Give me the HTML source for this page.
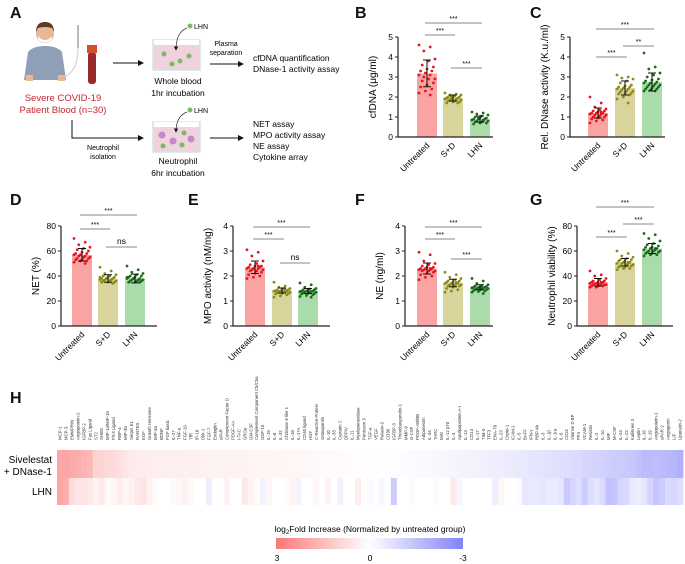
<!DOCTYPE html>
<html><head><meta charset="utf-8"><style>
body{margin:0;background:#fff}
svg{display:block;font-family:"Liberation Sans",Arial,sans-serif}
</style></head><body>
<svg id="fig" width="685" height="564" viewBox="0 0 685 564" xmlns="http://www.w3.org/2000/svg">
<defs>
<linearGradient id="cbar" x1="0" x2="1" y1="0" y2="0">
<stop offset="0" stop-color="rgb(250,120,120)"/><stop offset="0.5" stop-color="#fff"/><stop offset="1" stop-color="rgb(130,130,250)"/>
</linearGradient>
<marker id="arr" markerWidth="6" markerHeight="6" refX="5" refY="3" orient="auto"><path d="M0,0 L6,3 L0,6 z" fill="#111"/></marker>
</defs>
<!-- Panel labels -->
<g font-size="16" font-weight="bold" fill="#111">
<text x="10" y="18">A</text>
<text x="355" y="18">B</text>
<text x="530" y="18">C</text>
<text x="10" y="205">D</text>
<text x="188" y="205">E</text>
<text x="355" y="205">F</text>
<text x="530" y="205">G</text>
<text x="10" y="403">H</text>
</g>
<!-- Panel A schematic -->
<g>
<g>
<path d="M24,80 L28,52 Q33,46 45,46 Q57,46 62,52 L66,80 Z" fill="#8f9fb8"/>
<rect x="26" y="75" width="7" height="6" fill="#e8b894"/>
<rect x="58" y="75" width="7" height="6" fill="#e8b894"/>
<circle cx="45" cy="34" r="9" fill="#e8b894"/>
<path d="M36,32 Q36,22 45,22 Q54,22 54,32 L52,28 Q45,26 38,28 Z" fill="#5a3a28"/>
<path d="M38,36 Q45,44 52,36 L52,40 Q45,46 38,40 Z" fill="#fff" stroke="#ccc" stroke-width="0.5"/>
<line x1="78" y1="25" x2="78" y2="48" stroke="#bbb" stroke-width="2"/>
<path d="M78,48 Q78,70 66,76" stroke="#ccc" fill="none" stroke-width="1"/>
<rect x="88" y="52" width="8" height="32" rx="3" fill="#9a2a2a"/>
<rect x="87" y="45" width="10" height="8" fill="#d2502a"/>
</g>
<text x="63" y="101" font-size="9.5" fill="#c0282e" text-anchor="middle">Severe COVID-19</text>
<text x="63" y="113" font-size="9.5" fill="#c0282e" text-anchor="middle">Patient Blood (n=30)</text>
<line x1="113" y1="63" x2="143" y2="63" stroke="#111" marker-end="url(#arr)"/>
<polyline points="72,120 72,138 143,138" fill="none" stroke="#111" marker-end="url(#arr)"/>
<text x="103" y="150" font-size="7" text-anchor="middle"><tspan x="103">Neutrophil</tspan><tspan x="103" dy="9">isolation</tspan></text>
<g>
<rect x="153" y="40" width="47" height="30" fill="#f0d2de" stroke="#cfe6e6" stroke-width="1.5"/>
<rect x="154" y="40" width="45" height="5" fill="#fff"/>
<circle cx="164" cy="54" r="2.5" fill="#7cb86a"/><circle cx="172" cy="64" r="2.5" fill="#7cb86a"/><circle cx="180" cy="61" r="2.5" fill="#7cb86a"/><circle cx="189" cy="56" r="2.5" fill="#7cb86a"/>
<circle cx="190" cy="26" r="2.5" fill="#7cb86a"/>
<path d="M187,28 Q176,32 176,50" fill="none" stroke="#333" stroke-width="0.7" marker-end="url(#arr)"/>
</g>
<text x="194" y="29" font-size="7">LHN</text>
<text x="178" y="84" font-size="8.5" text-anchor="middle"><tspan x="178">Whole blood</tspan><tspan x="178" dy="12">1hr incubation</tspan></text>
<text x="226" y="46" font-size="7" text-anchor="middle"><tspan x="226">Plasma</tspan><tspan x="226" dy="9">separation</tspan></text>
<line x1="210" y1="64" x2="243" y2="64" stroke="#111" marker-end="url(#arr)"/>
<text x="253" y="61" font-size="8.5"><tspan x="253">cfDNA quantification</tspan><tspan x="253" dy="11">DNase-1 activity assay</tspan></text>
<g>
<rect x="153" y="122" width="47" height="30" fill="#f0d2de" stroke="#cfe6e6" stroke-width="1.5"/>
<rect x="154" y="122" width="45" height="5" fill="#fff"/>
<circle cx="162" cy="135" r="3.5" fill="#c08ac8"/><circle cx="173" cy="141" r="3.5" fill="#c08ac8"/><circle cx="191" cy="139" r="3.5" fill="#c08ac8"/>
<circle cx="163" cy="146" r="2.5" fill="#7cb86a"/><circle cx="182" cy="145" r="2.5" fill="#7cb86a"/><circle cx="184" cy="133" r="2.5" fill="#7cb86a"/>
<circle cx="190" cy="110" r="2.5" fill="#7cb86a"/>
<path d="M187,112 Q176,116 176,132" fill="none" stroke="#333" stroke-width="0.7" marker-end="url(#arr)"/>
</g>
<text x="194" y="113" font-size="7">LHN</text>
<text x="178" y="164" font-size="8.5" text-anchor="middle"><tspan x="178">Neutrophil</tspan><tspan x="178" dy="12">6hr incubation</tspan></text>
<line x1="210" y1="138" x2="243" y2="138" stroke="#111" marker-end="url(#arr)"/>
<text x="253" y="127" font-size="8.5"><tspan x="253">NET assay</tspan><tspan x="253" dy="11">MPO activity assay</tspan><tspan x="253" dy="11">NE assay</tspan><tspan x="253" dy="11">Cytokine array</tspan></text>
</g>
<g id="charts"></g>
<g id="heat"></g>
<!-- colorbar -->
<text x="370" y="532" font-size="8.5" text-anchor="middle">log<tspan font-size="6" dy="2">2</tspan><tspan dy="-2">Fold Increase (Normalized by untreated group)</tspan></text>
<rect x="276" y="538" width="187" height="11" fill="url(#cbar)"/>
<text x="277" y="561" font-size="8.5" text-anchor="middle">3</text>
<text x="370" y="561" font-size="8.5" text-anchor="middle">0</text>
<text x="463" y="561" font-size="8.5" text-anchor="middle">-3</text>
<text x="52" y="463" font-size="10" text-anchor="end"><tspan x="52">Sivelestat</tspan><tspan x="52" dy="12">+ DNase-1</tspan></text>
<text x="52" y="495" font-size="10" text-anchor="end">LHN</text>
</svg>
<script>
const NS="http://www.w3.org/2000/svg";
const groups=["Untreated","S+D","LHN"];
// Panel B cfDNA
const bMeans=[3.18,1.95,0.9], bSD=[0.67,0.15,0.15];
const bU=[4.6,4.5,4.3,3.9,3.8,3.6,3.5,3.4,3.3,3.3,3.2,3.1,3.1,3.0,2.9,2.9,2.8,2.7,2.6,2.5,2.4,2.3,2.2,2.1];
const bS=[2.2,2.15,2.1,2.1,2.05,2.0,2.0,2.0,1.95,1.95,1.9,1.9,1.9,1.85,1.85,1.8,1.8,1.75,1.75,1.7,1.7,2.0,1.9,1.85];
const bL=[1.25,1.2,1.15,1.1,1.05,1.0,0.95,0.95,0.9,0.9,0.9,0.85,0.85,0.8,0.8,0.75,0.75,0.7,0.7,0.65,0.9,0.95,0.85,0.8];
// Panel C DNase
const cMeans=[1.2,2.45,2.75], cSD=[0.25,0.35,0.45];
const cU=[2.0,1.7,1.5,1.4,1.35,1.3,1.3,1.25,1.2,1.2,1.2,1.15,1.15,1.1,1.1,1.05,1.0,1.0,0.95,0.9,0.85,0.8,0.7,1.25];
const cS=[3.1,3.0,2.95,2.9,2.8,2.7,2.6,2.55,2.5,2.5,2.45,2.4,2.4,2.35,2.3,2.3,2.25,2.2,2.2,2.15,2.1,2.0,1.9,1.7];
const cL=[4.2,3.5,3.4,3.2,3.1,3.0,2.9,2.85,2.8,2.75,2.7,2.7,2.65,2.6,2.6,2.55,2.5,2.5,2.45,2.4,2.4,2.35,2.3,2.3];
// Panel D NET
const dMeans=[57,38,38], dSD=[5,3,3.5];
const dU=[70,67,65,63,62,61,60,59,58,58,57,57,56,56,55,55,54,54,53,53,52,52,51,50];
const dS=[47,44,42,41,40,40,39,39,38,38,38,37,37,37,36,36,36,35,35,35,34,38,39,37];
const dL=[48,45,43,42,41,40,40,39,39,38,38,38,37,37,37,36,36,36,35,35,35,38,39,37];
// Panel E MPO
const eMeans=[2.35,1.42,1.4], eSD=[0.25,0.1,0.1];
const eU=[3.05,2.95,2.8,2.6,2.5,2.45,2.4,2.4,2.35,2.35,2.3,2.3,2.3,2.25,2.25,2.2,2.2,2.15,2.1,2.05,2.0,1.95,1.9,2.4];
const eS=[1.75,1.6,1.55,1.5,1.5,1.45,1.45,1.45,1.4,1.4,1.4,1.4,1.38,1.38,1.35,1.35,1.32,1.3,1.3,1.28,1.25,1.2,1.15,1.45];
const eL=[1.72,1.65,1.55,1.5,1.48,1.45,1.45,1.42,1.4,1.4,1.4,1.38,1.38,1.36,1.35,1.35,1.32,1.3,1.3,1.28,1.25,1.22,1.18,1.15];
// Panel F NE
const fMeans=[2.3,1.72,1.55], fSD=[0.22,0.15,0.1];
const fU=[2.95,2.85,2.6,2.5,2.45,2.4,2.35,2.35,2.3,2.3,2.3,2.25,2.25,2.25,2.2,2.2,2.2,2.15,2.1,2.05,2.0,1.95,1.85,2.3];
const fS=[2.15,2.05,1.95,1.9,1.85,1.8,1.8,1.75,1.75,1.72,1.7,1.7,1.68,1.65,1.65,1.62,1.6,1.6,1.55,1.5,1.45,1.4,1.35,1.75];
const fL=[1.9,1.8,1.7,1.65,1.6,1.6,1.58,1.56,1.55,1.55,1.54,1.53,1.52,1.5,1.5,1.48,1.46,1.45,1.44,1.42,1.4,1.38,1.35,1.3];
// Panel G viability
const gMeans=[35,51,62], gSD=[3,3,4];
const gU=[44,41,40,38,37,36,36,35,35,35,34,34,34,34,33,33,33,33,32,32,32,31,31,35];
const gS=[60,58,56,55,54,53,53,52,52,51,51,50,50,50,49,49,48,48,47,47,46,46,45,51];
const gL=[74,73,70,68,66,65,64,63,63,62,62,61,61,60,60,60,59,59,58,58,57,57,56,62];
const yTicks4=[0,1,2,3,4], yTicks5=[0,1,2,3,4,5], yTicks80=[0,20,40,60,80];

const barFill=["#f9a3a3","#d9d49c","#a9dcaa"], dotFill=["#e8141e","#8b8b1a","#1b6b1b"];
const panels=[
 {id:"b",ax:398,y0:137,yTop:37,max:5,ticks:yTicks5,title:"cfDNA (μg/ml)",m:bMeans,sd:bSD,pts:[bU,bS,bL],cx:[427,453,480],end:493,
  sig:[[0,2,23,"***"],[0,1,35,"***"],[1,2,68,"***"]]},
 {id:"c",ax:570,y0:137,yTop:37,max:5,ticks:yTicks5,title:"Rel. DNase activity (K.u./ml)",m:cMeans,sd:cSD,pts:[cU,cS,cL],cx:[598,625,652],end:665,
  sig:[[0,2,29,"***"],[1,2,46,"**"],[0,1,57,"***"]]},
 {id:"d",ax:61,y0:326,yTop:226,max:80,ticks:yTicks80,title:"NET (%)",m:dMeans,sd:dSD,pts:[dU,dS,dL],cx:[82,108,135],end:157,
  sig:[[0,2,215,"***"],[0,1,229,"***"],[1,2,247,"ns"]]},
 {id:"e",ax:233,y0:326,yTop:226,max:4,ticks:yTicks4,title:"MPO activity (nM/mg)",m:eMeans,sd:eSD,pts:[eU,eS,eL],cx:[255,282,308],end:330,
  sig:[[0,2,227,"***"],[0,1,239,"***"],[1,2,263,"ns"]]},
 {id:"f",ax:405,y0:326,yTop:226,max:4,ticks:yTicks4,title:"NE (ng/ml)",m:fMeans,sd:fSD,pts:[fU,fS,fL],cx:[427,453,480],end:493,
  sig:[[0,2,227,"***"],[0,1,239,"***"],[1,2,259,"***"]]},
 {id:"g",ax:577,y0:326,yTop:226,max:80,ticks:yTicks80,title:"Neutrophil viability (%)",m:gMeans,sd:gSD,pts:[gU,gS,gL],cx:[598,625,652],end:673,
  sig:[[0,2,207,"***"],[1,2,224,"***"],[0,1,237,"***"]]}
];
function el(tag,attrs,parent,txt){const e=document.createElementNS(NS,tag);for(const k in attrs)e.setAttribute(k,attrs[k]);if(txt!==undefined)e.textContent=txt;parent.appendChild(e);return e;}
const charts=document.getElementById("charts");
panels.forEach(p=>{
 const g=el("g",{},charts);
 
 
 const ys=v=>p.y0-(v/p.max)*(p.y0-p.yTop);
 p.m.forEach((mv,i)=>{
  const b=el("rect",{x:p.cx[i]-10,y:ys(mv),width:20,height:p.y0-ys(mv),fill:barFill[i]},g);
  
  
 });
 p.pts.forEach((arr,i)=>{
  arr.forEach((v,k)=>{
   const off=(((k*7)%11)-5)*1.6;
   const d=el("circle",{cx:p.cx[i]+off,cy:ys(v),r:1.4,fill:dotFill[i]},g);
   
   
  });
 });
 p.m.forEach((mv,i)=>{
  const hi=ys(mv+p.sd[i]),lo=ys(mv-p.sd[i]);
  const eb=el("path",{d:`M${p.cx[i]},${hi}V${lo}M${p.cx[i]-4},${hi}H${p.cx[i]+4}M${p.cx[i]-4},${lo}H${p.cx[i]+4}`,stroke:"#111","stroke-width":1,fill:"none"},g);
  
  
 });
 const axis=el("path",{d:`M${p.ax},${p.yTop}V${p.y0}H${p.end}`,stroke:"#222","stroke-width":1.2,fill:"none"},g);
 
 
 p.ticks.forEach(t=>{
  el("line",{x1:p.ax-3,x2:p.ax,y1:ys(t),y2:ys(t),stroke:"#222"},g);
  const tl=el("text",{x:p.ax-5,y:ys(t)+3,"font-size":8.5,"text-anchor":"end"},g,t);
  
  
 });
 groups.forEach((gn,i)=>{
  const t=el("text",{x:p.cx[i]+3,y:p.y0+9,"font-size":8.5,"text-anchor":"end",transform:`rotate(-45 ${p.cx[i]+3} ${p.y0+9})`},g,gn);
  
  
 });
 const tx=p.ax-22, ty=(p.y0+p.yTop)/2;
 const yt=el("text",{x:tx,y:ty,"font-size":10,"text-anchor":"middle",transform:`rotate(-90 ${tx} ${ty})`},g,p.title);
 
 
 p.sig.forEach(s=>{
  const l=el("line",{x1:p.cx[s[0]]-2,x2:p.cx[s[1]]+2,y1:s[2],y2:s[2],stroke:"#888","stroke-width":0.9},g);
  
  
  const st=el("text",{x:(p.cx[s[0]]+p.cx[s[1]])/2,y:s[2]-(s[3]=="ns"?3:2),"font-size":s[3]=="ns"?8.5:7,"text-anchor":"middle"},g,s[3]);
  
  
 });
});

// Heatmap
const cytokines=["MCP-1","MCP-3","EMMPRIN","Angiopoietin-2","IGFBP-2","Fas Ligand","ST2","SHBG","MIP-1a/MIP-1b","Flt-3 Ligand","RBP-4","MIP-3b","Serpin E1","RANTES","EGF","Growth Hormone","MIP-3a","BDNF","FGF basic","IL-27","TNF-a","FGF-19","TfR","IP-10","Dkk-1","FGF-7","Endoglin","uPAR","Complement Factor D","PDGF-AA","I-TAC","GROa","GM-CSF","Complement Component C5/C5a","GDF-15","IL-15","IL-8","IL-32","Chitinase 3-like 1","IL-18","IL-17A","CD40 ligand","HGF","C-Reactive Protein","Osteopontin","IL-10","IL-33","Cystatin C","DPPIV","IL-11","Myeloperoxidase","Pentraxin 3","TGF-a","VEGF","Relaxin-2","CD30","IGFBP-3","Thrombospondin-1","MMP-9","G-CSF","PDGF-AB/BB","Adiponectin","IL-34","TARC","MIG","IL-12 p70","IL-4","Apolipoprotein A-I","IL-13","CD14","IL-17","TIM-3","TFF3","ENA-78","IL-23","Cripto-1","ICAM-1","IL-5","BAFF","IFN-γ","RBP-4b","IL-3","IL-1β","IL-1ra","IL-6","CD31","Vitamin D BP","PF4","VCAM-1","Resistin","IL-2","IL-1α","MIF","M-CSF","IL-24","IL-22","Kallikrein 3","Leptin","IL-16","IL-19","Angiopoietin-1","uPAR-2","Angiogenin","LIF","Lipocalin-2"];
const sdRow=[2.0,2.0,1.9,1.8,1.7,1.6,1.0,0.95,0.85,0.8,0.7,0.6,0.42,0.4,0.4,0.38,0.38,0.36,0.36,0.35,0.35,0.34,0.33,0.33,0.32,0.32,0.3,0.3,0.3,0.28,0.28,0.27,0.26,0.25,0.24,0.24,0.22,0.22,0.2,0.2,0.18,0.18,0.16,0.15,0.14,0.12,0.12,0.1,0.08,0.06,0.05,0.04,0.03,0.02,0.0,-0.02,-0.05,-0.06,-0.08,-0.1,-0.12,-0.14,-0.15,-0.17,-0.2,-0.22,-0.24,-0.26,-0.28,-0.3,-0.32,-0.35,-0.38,-0.4,-0.42,-0.45,-0.48,-0.5,-0.55,-0.6,-0.62,-0.65,-0.7,-0.72,-0.75,-0.8,-0.85,-0.9,-0.95,-1.0,-1.05,-1.1,-1.15,-1.2,-1.25,-1.3,-1.35,-1.5,-1.6,-1.6,-1.55,-1.6,-1.7,-1.75,-1.9];
const lhnRow=[2.0,1.8,0.8,0.6,0.6,0.5,0.3,0.5,0.1,0.2,0.4,0.2,0.3,0.5,0.6,0.3,0.1,0.0,0.0,0.1,0.2,0.3,0.1,0.0,0.0,-0.4,0.0,0.0,0.3,0.0,0.0,0.5,0.3,0.1,-0.3,0.2,0.0,0.0,0.1,0.3,-0.3,0.0,0.0,0.2,0.0,0.3,0.0,-0.3,0.0,0.0,0.4,0.0,-0.1,0.0,-0.2,0.0,-1.2,0.0,0.0,0.1,0.0,0.0,0.0,-0.1,0.0,0.0,0.5,-0.2,0.0,0.0,0.0,0.0,0.0,-0.4,0.2,0.0,0.0,-0.1,-0.6,-0.5,-0.5,-0.6,-0.5,-0.5,-0.6,-1.3,-1.0,-0.8,-1.2,-0.8,-0.6,-0.9,-1.5,-1.4,-1.0,-0.9,-0.5,-0.4,-0.6,-1.0,-1.4,-1.2,-0.9,-1.0,-0.8];
function colorOf(v){const t=Math.max(-1,Math.min(1,v/3));
 if(t>=0){return `rgb(${Math.round(255-5*t)},${Math.round(255-135*t)},${Math.round(255-135*t)})`;}
 const u=-t;return `rgb(${Math.round(255-125*u)},${Math.round(255-125*u)},${Math.round(255-5*u)})`;}
const heat=document.getElementById("heat");
const hx0=57,hx1=683,cw=(hx1-hx0)/cytokines.length;
[[sdRow,450,28],[lhnRow,478,27]].forEach((r,ri)=>{
 r[0].forEach((v,i)=>{
  const c=el("rect",{x:hx0+i*cw,y:r[1],width:cw+0.4,height:r[2],fill:colorOf(v)},heat);
  
  
 });
});
cytokines.forEach((n,i)=>{
 const x=hx0+i*cw+cw/2+1.5,y=440;
 const t=el("text",{x:x,y:y,"font-size":4.3,fill:"#333",transform:`rotate(-90 ${x} ${y})`},heat,n);
 
 
});
</script>
</body></html>
